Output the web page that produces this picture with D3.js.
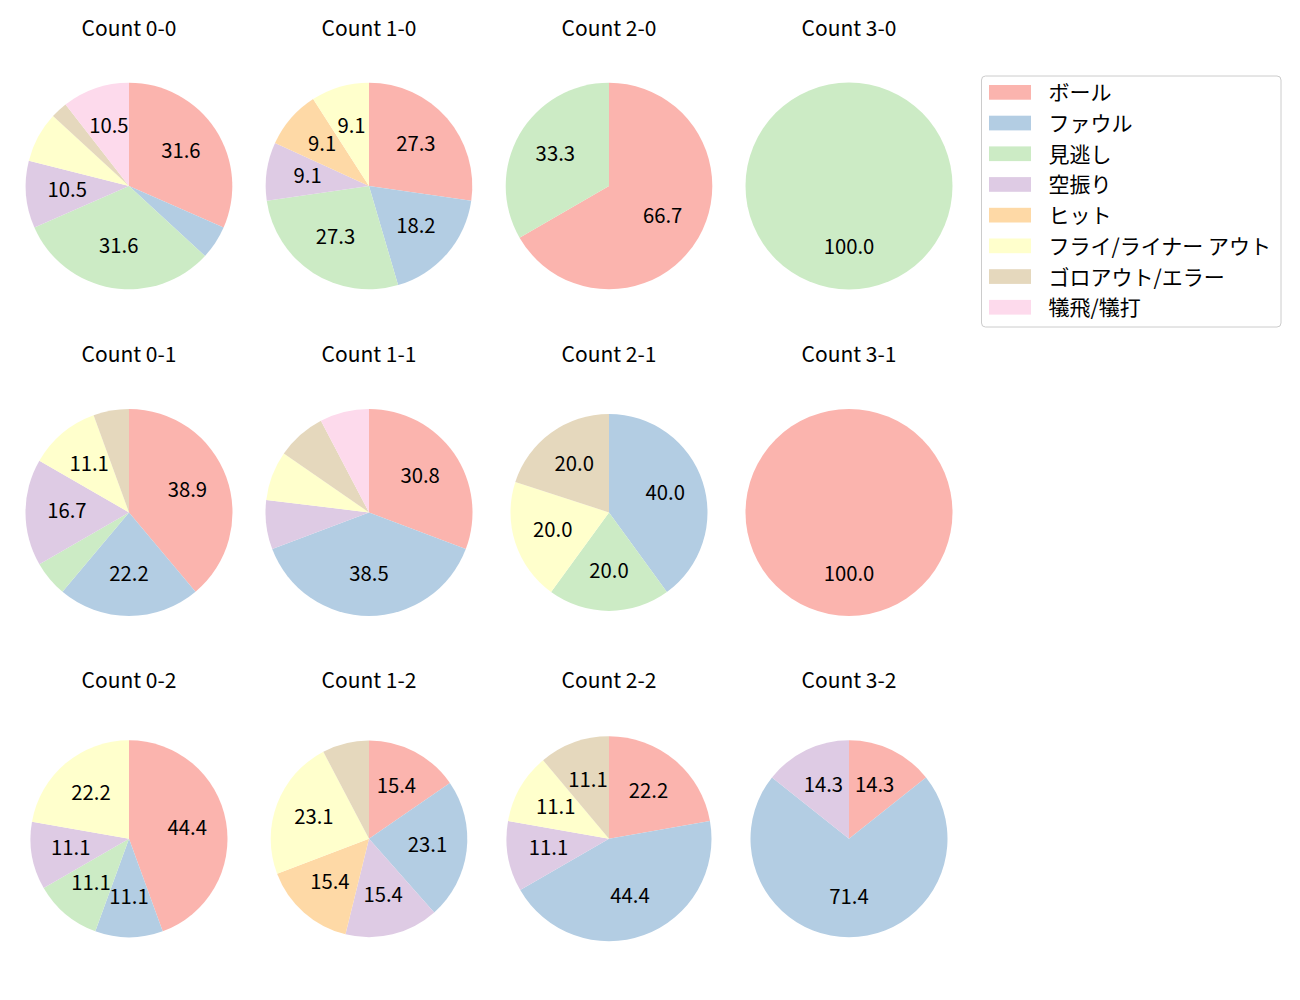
<!DOCTYPE html>
<html>
<head>
<meta charset="utf-8">
<script src="https://cdn.jsdelivr.net/npm/d3@7"></script>
<style>
  html, body { margin: 0; padding: 0; background: #ffffff; }
  svg { display: block; }
  text { font-family: "Noto Sans CJK JP", "Noto Sans", sans-serif; fill: #000; }
</style>
</head>
<body>
<div id="chart"></div>
<script>
// ---------- data ----------
const categories = ["ボール", "ファウル", "見逃し", "空振り", "ヒット", "フライ/ライナー アウト", "ゴロアウト/エラー", "犠飛/犠打"];
const countTitles = ["Count 0-0", "Count 1-0", "Count 2-0", "Count 3-0",
                     "Count 0-1", "Count 1-1", "Count 2-1", "Count 3-1",
                     "Count 0-2", "Count 1-2", "Count 2-2", "Count 3-2"];
// pitch counts per category, in the order of `categories`
const count00 = [12, 2, 12, 4, 0, 3, 1, 4];
const count10 = [3, 2, 3, 1, 1, 1, 0, 0];
const count20 = [2, 0, 1, 0, 0, 0, 0, 0];
const count30 = [0, 0, 1, 0, 0, 0, 0, 0];
const count01 = [7, 4, 1, 3, 0, 2, 1, 0];
const count11 = [4, 5, 0, 1, 0, 1, 1, 1];
const count21 = [0, 2, 1, 0, 0, 1, 1, 0];
const count31 = [1, 0, 0, 0, 0, 0, 0, 0];
const count02 = [4, 1, 1, 1, 0, 2, 0, 0];
const count12 = [2, 3, 0, 2, 2, 3, 1, 0];
const count22 = [2, 4, 0, 1, 0, 1, 1, 0];
const count32 = [1, 5, 0, 1, 0, 0, 0, 0];
const allCounts = [count00, count10, count20, count30,
                   count01, count11, count21, count31,
                   count02, count12, count22, count32];
const labelThreshold = 8; // percent labels shown only above this

// ---------- layout / style ----------
const W = 1300, H = 1000;
const colors = ["#fbb4ae", "#b3cde3", "#ccebc5", "#decbe4", "#fed9a6", "#ffffcc", "#e5d8bd", "#fddaec"];
const colX = d3.scaleLinear().domain([0, 3]).range([129, 849]);
const rowY = d3.scaleLinear().domain([0, 2]).range([186, 838.8]);
const radii = [103.3, 103.3, 103.3, 103.5,
               103.5, 103.5, 98.5, 103.5,
               98.5, 98.3, 102.5, 98.5];
const titleOffset = 159.5; // title center above pie-grid center
const titleSize = 21;
const labelSize = 20.3;
const legendSize = 21;

const svg = d3.select("#chart").append("svg")
  .attr("width", W).attr("height", H);

const color = d3.scaleOrdinal().domain(categories).range(colors);
const pie = d3.pie().sort(null).value(d => d.v).startAngle(0).endAngle(2 * Math.PI);

allCounts.forEach((counts, i) => {
  const col = i % 4, row = Math.floor(i / 4);
  const cx = colX(col), cy = rowY(row), r = radii[i];
  const total = d3.sum(counts);
  const items = counts.map((v, k) => ({ v, cat: categories[k] }));
  const arcs = pie(items).filter(a => a.data.v > 0);
  const arc = d3.arc().innerRadius(0).outerRadius(r);
  const labelArc = d3.arc().innerRadius(r * 0.6).outerRadius(r * 0.6);

  const g = svg.append("g").attr("transform", `translate(${cx},${cy})`);
  g.selectAll("path").data(arcs).join("path")
    .attr("d", arc)
    .attr("fill", d => color(d.data.cat));

  g.selectAll("text.pct").data(arcs.filter(a => a.data.v / total * 100 > labelThreshold)).join("text")
    .attr("class", "pct")
    .attr("transform", d => `translate(${labelArc.centroid(d)})`)
    .attr("dy", -3)
    .attr("text-anchor", "middle")
    .attr("dominant-baseline", "central")
    .attr("font-size", labelSize)
    .text(d => (d.data.v / total * 100).toFixed(1));

  svg.append("text")
    .attr("x", cx).attr("y", rowY(row) - titleOffset)
    .attr("text-anchor", "middle")
    .attr("dominant-baseline", "central")
    .attr("font-size", titleSize)
    .text(countTitles[i]);
});

// ---------- legend ----------
const lg = svg.append("g").attr("transform", "translate(981.5,76)");
lg.append("rect")
  .attr("width", 299.5).attr("height", 251)
  .attr("rx", 4).attr("ry", 4)
  .attr("fill", "#ffffff").attr("stroke", "#cccccc").attr("stroke-width", 1);
const rowStep = 30.7;
const entries = lg.selectAll("g.entry").data(categories).join("g")
  .attr("class", "entry")
  .attr("transform", (d, k) => `translate(0,${16.3 + k * rowStep})`);
entries.append("rect")
  .attr("x", 7.5).attr("y", -7.3).attr("width", 42).attr("height", 14.7)
  .attr("fill", d => color(d));
entries.append("text")
  .attr("x", 67).attr("y", -1)
  .attr("dominant-baseline", "central")
  .attr("font-size", legendSize)
  .text(d => d);
</script>
</body>
</html>
